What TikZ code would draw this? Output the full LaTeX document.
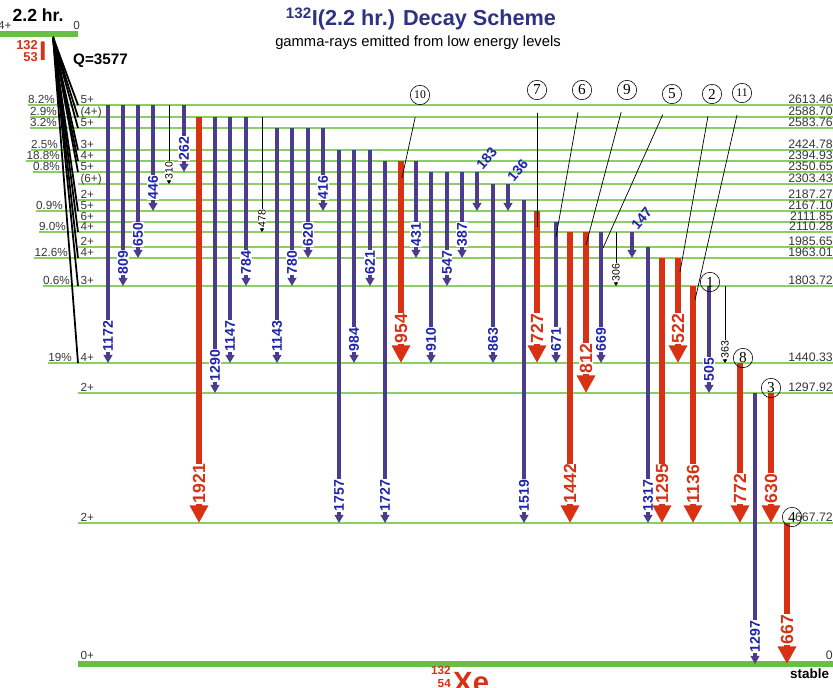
\documentclass[tikz,border=0pt]{standalone}
\usepackage{fontspec}
\setmainfont{Liberation Sans}
\newfontfamily\circfont{Liberation Serif}
\usepackage{tikz}
\usetikzlibrary{arrows.meta,calc,positioning}
\definecolor{lvlgreen}{RGB}{140,205,100}
\definecolor{gndgreen}{RGB}{105,190,70}
\definecolor{gamblue}{RGB}{75,60,140}
\definecolor{labblue}{RGB}{30,35,170}
\definecolor{gamred}{RGB}{215,50,20}
\definecolor{titleblue}{RGB}{45,50,130}
\definecolor{txtgray}{RGB}{55,55,55}
\tikzstyle{level} = [draw=lvlgreen, line width=1.7pt]
\tikzstyle{ground} = [draw=gndgreen, line width=4.5pt]
\tikzstyle{beta} = [draw=black, line width=1.5pt]
\tikzstyle{bgam} = [draw=gamblue, line width=2.8pt, -{Triangle[length=7pt,width=7.5pt]}]
\tikzstyle{rgam} = [draw=gamred, line width=5.8pt, -{Triangle[length=15pt,width=15pt]}]
\tikzstyle{kgam} = [draw=black, line width=0.8pt, -{Triangle[length=3pt,width=3.5pt]}]
\tikzstyle{blab} = [text=labblue, font=\fontsize{12}{12}\selectfont\bfseries, rotate=90, anchor=west, fill=white, inner sep=0.5pt]
\tikzstyle{rlab} = [text=gamred, font=\fontsize{15}{15}\selectfont\bfseries, rotate=90, anchor=west, fill=white, inner sep=0.5pt]
\tikzstyle{klab} = [font=\fontsize{9}{9}\selectfont, rotate=90, anchor=west, fill=white, inner sep=0.5pt]
\tikzstyle{alab} = [text=labblue, font=\fontsize{12}{12}\selectfont\bfseries, rotate=50, anchor=west, inner sep=0pt]
\tikzstyle{spin} = [anchor=base west, inner sep=0pt, text=txtgray, font=\fontsize{10}{10}\selectfont]
\tikzstyle{pct} = [anchor=base east, inner sep=0pt, text=txtgray, font=\fontsize{10}{10}\selectfont]
\tikzstyle{energy} = [anchor=base east, inner sep=0pt, text=txtgray, font=\fontsize{10.5}{10.5}\selectfont]
\tikzstyle{circnum} = [circle, draw, line width=0.5pt, minimum size=0.58cm, inner sep=0pt, font=\circfont\fontsize{13}{13}\selectfont]
\tikzstyle{leader} = [draw=black, line width=0.6pt, shorten <=0.38cm]
\def\boff{-11}
\def\roff{-19}
\def\koff{-4}
% gamma line: colour, x, from level, to level, energy
\newcommand{\gam}[5]{%
  \draw[#1gam] (#2,0 |- L#3) coordinate (t#5) -- (#2,0 |- L#4) coordinate (h#5);
  \node[#1lab] (g#5) at ($(h#5)+(0,\csname #1off\endcsname)$) {#5};}
\newcommand{\gamup}[4]{%
  \draw[bgam] (#1,0 |- L#2) coordinate (t#4) -- (#1,0 |- L#3) coordinate (h#4);
  \node[alab] (g#4) at ($(t#4)+(2,-4)$) {#4};}

\begin{document}
\begin{tikzpicture}[x=0.03cm, y=-0.03cm]
    \useasboundingbox (0,0) rectangle (833,687);
    % Title
    \node[text=titleblue, font=\fontsize{18.5}{18.5}\selectfont\bfseries] (title) at (421,19) {\textsuperscript{132}I(2.2 hr.) Decay Scheme};
    \node[font=\fontsize{12.6}{12.6}\selectfont] (sub) at (418,43) {gamma-rays emitted from low energy levels};

    % Parent
    \coordinate (P0) at (0,34);
    \coordinate (P1) at (78,34);
    \draw[ground] (P0) -- (P1);
    \node[spin] (pspin) at (-2,29) {4+};
    \node[spin, anchor=base east] (pen) at (80,29) {0};
    \node[font=\fontsize{15}{15}\selectfont\bfseries] (hl) at (38,15) {2.2 hr.};
    \node[anchor=north east, inner sep=0pt, text=gamred, font=\fontsize{11}{11}\selectfont\bfseries] (pa) at (38,40) {132};
    \node[anchor=north east, inner sep=0pt, text=gamred, font=\fontsize{11}{11}\selectfont\bfseries] (pz) at (38,52) {53};
    \node[anchor=north west, inner sep=0pt, text=gamred, font=\fontsize{23}{23}\selectfont\bfseries] (pel) at (39,42) {I};
    \node[anchor=west, inner sep=0pt, font=\fontsize{13}{13}\selectfont\bfseries] (q) at (73,61) {Q=3577};
    \coordinate (beta) at (53,37);

    % Levels
    \foreach \n/\yy/\en/\sp in {0/105/2613.46/5+, 1/117/2588.70/(4+), 2/128/2583.76/5+,
        3/150/2424.78/3+, 4/161/2394.93/4+, 5/172/2350.65/5+, 6/184/2303.43/(6+),
        7/200/2187.27/2+, 8/211/2167.10/5+, 9/222/2111.85/6+, 10/232/2110.28/4+,
        11/247/1985.65/2+, 12/258/1963.01/4+, 13/286/1803.72/3+, 14/363/1440.33/4+,
        15/393/1297.92/2+, 16/523/667.72/2+} {
        \coordinate (L\n) at (78,\yy);
        \coordinate (R\n) at (833,\yy);
        \draw[level] (L\n) -- (R\n);
        \node[spin, xshift=2pt, yshift=1.5pt] (s\n) at (L\n) {\sp};
        \node[energy, yshift=1pt] (e\n) at (R\n) {\en};
    }
    \coordinate (L17) at (78,664);
    \coordinate (R17) at (833,664);
    \draw[ground] (L17) -- (R17);
    \node[spin, xshift=2pt, yshift=4pt] (s17) at (L17) {0+};
    \node[energy, yshift=4pt] (e17) at (R17) {0};
    \node[anchor=base west, inner sep=0pt, font=\fontsize{11.5}{11.5}\selectfont\bfseries] (stab) at (790,678) {stable};

    % Feeding
    \foreach \n/\xx/\pc in {0/55/8.2, 1/57/2.9, 2/57/3.2, 3/58/2.5, 4/60/18.8, 5/60/0.8,
        8/63/0.9, 10/66/9.0, 12/68/12.6, 13/70/0.6, 14/72/19} {
        \node[pct, yshift=1.5pt] (p\n) at (\xx,0 |- L\n) {\pc\%};
        \draw[level] (p\n.south west |- L\n) -- (L\n);
        \draw[beta] (beta) -- (L\n);
    }

    % Daughter
    \node[anchor=north west, inner sep=0pt, text=gamred, font=\fontsize{25}{25}\selectfont\bfseries] (xe) at (453,672) {Xe};
    \node[anchor=north east, inner sep=0pt, text=gamred, font=\fontsize{10}{10}\selectfont\bfseries] (xa) at (451,666) {132};
    \node[anchor=north east, inner sep=0pt, text=gamred, font=\fontsize{10}{10}\selectfont\bfseries] (xz) at (451,679) {54};

    % Gamma rays
    \gam{b}{108}{0}{14}{1172}
    \gam{b}{123}{0}{13}{809}
    \gam{b}{138}{0}{12}{650}
    \gam{b}{153}{0}{8}{446}
    \gam{k}{169}{0}{6}{310}
    \gam{b}{184}{0}{5}{262}
    \gam{r}{199}{1}{16}{1921}
    \gam{b}{215}{1}{15}{1290}
    \gam{b}{230}{1}{14}{1147}
    \gam{b}{246}{1}{13}{784}
    \gam{k}{262}{1}{10}{478}
    \gam{b}{277}{2}{14}{1143}
    \gam{b}{292}{2}{13}{780}
    \gam{b}{308}{2}{12}{620}
    \gam{b}{323}{2}{8}{416}
    \gam{b}{339}{3}{16}{1757}
    \gam{b}{354}{3}{14}{984}
    \gam{b}{370}{3}{13}{621}
    \gam{b}{385}{4}{16}{1727}
    \gam{r}{401}{4}{14}{954}
    \gam{b}{416}{4}{12}{431}
    \gam{b}{431}{5}{14}{910}
    \gam{b}{447}{5}{13}{547}
    \gam{b}{462}{5}{12}{387}
    \gamup{477}{5}{8}{183}
    \gam{b}{493}{6}{14}{863}
    \gamup{508}{6}{8}{136}
    \gam{b}{524}{7}{16}{1519}
    \gam{r}{537}{8}{14}{727}
    \gam{b}{556}{9}{14}{671}
    \gam{r}{570}{10}{16}{1442}
    \gam{r}{586}{10}{15}{812}
    \gam{b}{601}{10}{14}{669}
    \gam{k}{616}{10}{13}{306}
    \gamup{632}{10}{12}{147}
    \gam{b}{648}{11}{16}{1317}
    \gam{r}{662}{12}{16}{1295}
    \gam{r}{678}{12}{14}{522}
    \gam{r}{693}{13}{16}{1136}
    \gam{b}{709}{13}{15}{505}
    \gam{k}{725}{13}{14}{363}
    \gam{r}{740}{14}{16}{772}
    \gam{b}{755}{15}{17}{1297}
    \gam{r}{771}{15}{16}{630}
    \gam{r}{787}{16}{17}{667}

    % Markers
    \node[circnum, font=\circfont\fontsize{10}{10}\selectfont] (c10) at (420,95) {10};
    \node[circnum] (c7) at (537,90) {7};
    \node[circnum] (c6) at (582,90) {6};
    \node[circnum] (c9) at (627,90) {9};
    \node[circnum] (c5) at (672,94) {5};
    \node[circnum] (c2) at (712,94) {2};
    \node[circnum, font=\circfont\fontsize{10}{10}\selectfont] (c11) at (742,93) {11};
    \node[circnum] (c1) at (710,282) {1};
    \node[circnum] (c8) at (743,358) {8};
    \node[circnum] (c3) at (771,388) {3};
    \node[circnum] (c4) at (792,517) {4};
    \coordinate (a10) at (402,178);
    \coordinate (a7) at (537,227);
    \coordinate (a6) at (556,237);
    \coordinate (a9) at (586,245);
    \coordinate (a5) at (603,248);
    \coordinate (a2) at (680,272);
    \coordinate (a11) at (695,300);
    \draw[leader] (c10) -- (a10);
    \draw[leader] (c7) -- (a7);
    \draw[leader] (c6) -- (a6);
    \draw[leader] (c9) -- (a9);
    \draw[leader] (c5) -- (a5);
    \draw[leader] (c2) -- (a2);
    \draw[leader] (c11) -- (a11);
\end{tikzpicture}
\end{document}
